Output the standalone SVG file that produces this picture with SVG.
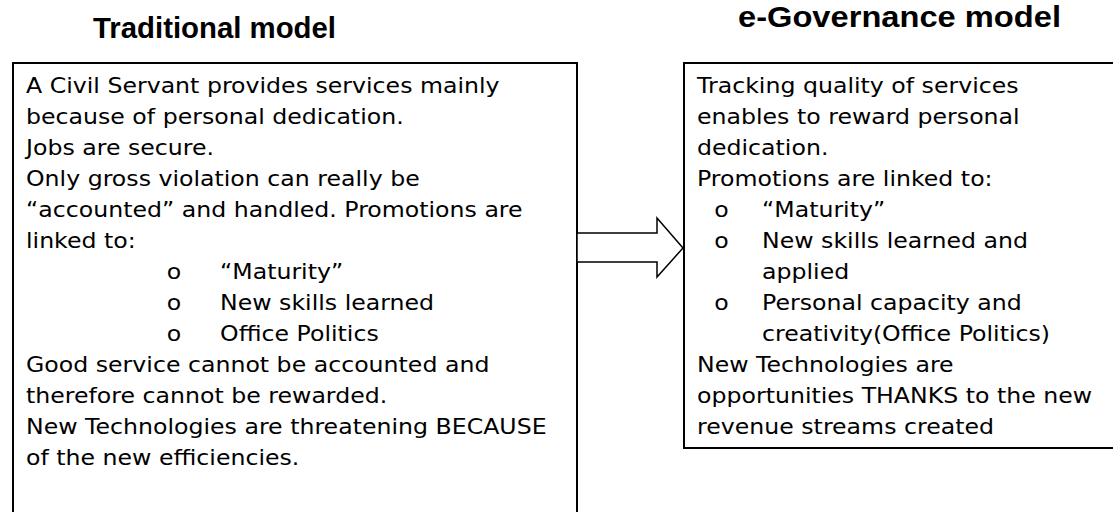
<svg xmlns="http://www.w3.org/2000/svg" width="1113" height="512" viewBox="0 0 1113 512">
<style>
.title{font-family:"Liberation Sans",Arial,sans-serif;font-weight:bold;font-size:29.5px;fill:#000}
.body{font-family:"DejaVu Sans",Verdana,sans-serif;font-size:22px;fill:#000}
.box{fill:#fff;stroke:#000;stroke-width:2}
.arrow{fill:#fff;stroke:#000;stroke-width:1.5;stroke-linejoin:miter}
</style>
<rect width="1113" height="512" fill="#fff"/>
<g id="traditional">
<text class="title" x="93" y="38" textLength="243" lengthAdjust="spacingAndGlyphs">Traditional model</text>
<rect class="box" x="13" y="63" width="564" height="470"/>
<text class="body" transform="matrix(1.075 0 0 1 -1.95 0)">
<tspan x="26" y="93">A Civil Servant provides services mainly</tspan>
<tspan x="26" y="124">because of personal dedication.</tspan>
<tspan x="26" y="155">Jobs are secure.</tspan>
<tspan x="26" y="186">Only gross violation can really be</tspan>
<tspan x="26" y="217">“accounted” and handled. Promotions are</tspan>
<tspan x="26" y="248">linked to:</tspan>
<tspan x="157" y="279">o</tspan><tspan x="206.5" y="279">“Maturity”</tspan>
<tspan x="157" y="310">o</tspan><tspan x="206.5" y="310">New skills learned</tspan>
<tspan x="157" y="341">o</tspan><tspan x="206.5" y="341">Office Politics</tspan>
<tspan x="26" y="372">Good service cannot be accounted and</tspan>
<tspan x="26" y="403">therefore cannot be rewarded.</tspan>
<tspan x="26" y="434">New Technologies are threatening BECAUSE</tspan>
<tspan x="26" y="465">of the new efficiencies.</tspan>
</text>
</g>
<g id="egovernance">
<text class="title" x="738" y="27" textLength="323" lengthAdjust="spacingAndGlyphs">e-Governance model</text>
<rect class="box" x="684" y="63" width="440" height="385"/>
<text class="body" transform="matrix(1.075 0 0 1 -52.275 0)">
<tspan x="697" y="93">Tracking quality of services</tspan>
<tspan x="697" y="124">enables to reward personal</tspan>
<tspan x="697" y="155">dedication.</tspan>
<tspan x="697" y="186">Promotions are linked to:</tspan>
<tspan x="713" y="217">o</tspan><tspan x="757.5" y="217">“Maturity”</tspan>
<tspan x="713" y="248">o</tspan><tspan x="757.5" y="248">New skills learned and</tspan>
<tspan x="757.5" y="279">applied</tspan>
<tspan x="713" y="310">o</tspan><tspan x="757.5" y="310">Personal capacity and</tspan>
<tspan x="757.5" y="341">creativity(Office Politics)</tspan>
<tspan x="697" y="372">New Technologies are</tspan>
<tspan x="697" y="403">opportunities THANKS to the new</tspan>
<tspan x="697" y="434">revenue streams created</tspan>
</text>
</g>
<g id="connectors">
<polygon class="arrow" points="577,233 657,233 657,218 683,248 657,277 657,262 577,262"/>
</g>
</svg>
